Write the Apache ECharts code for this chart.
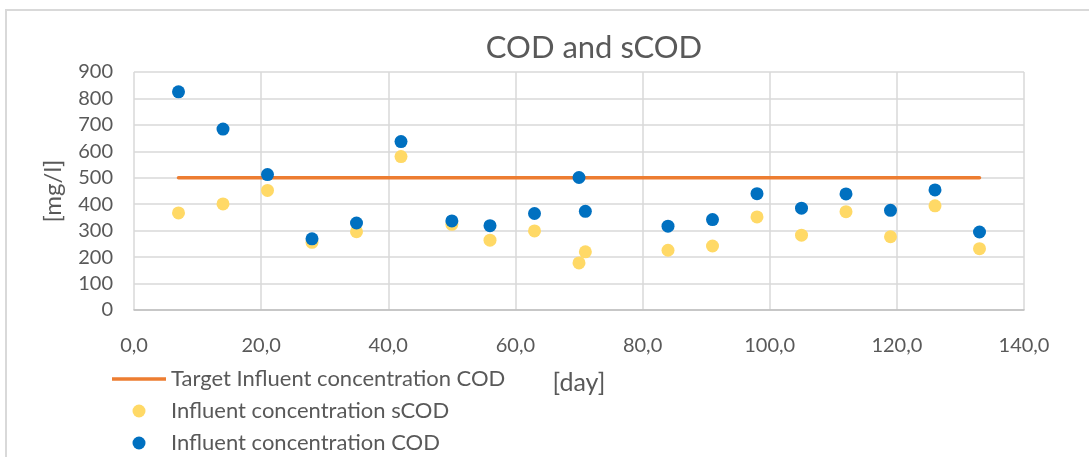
<!DOCTYPE html>
<html>
<head>
<meta charset="utf-8">
<style>
  html, body { margin: 0; padding: 0; background: #ffffff; }
  #chart { width: 1089px; height: 457px; }
</style>
<script src="https://cdn.jsdelivr.net/npm/echarts@6/dist/echarts.min.js"></script>
</head>
<body>
<div id="chart"></div>
<script>
// Sampling days for the influent measurements
const days = [7, 14, 21, 28, 35, 42, 50, 56, 63, 70, 71, 84, 91, 98, 105, 112, 119, 126, 133];
// Influent concentration COD [mg/l]
const codValues = [825, 684, 512, 269, 329, 637, 337, 319, 365, 501, 373, 317, 342, 440, 385, 439, 377, 454, 295];
// Influent concentration sCOD [mg/l]
const scodValues = [367, 401, 452, 256, 296, 580, 324, 264, 299, 178, 220, 226, 242, 352, 283, 372, 277, 394, 232];
// Target influent COD, held constant over the run
const targetDays = [7, 133];
const targetValues = [500, 500];

const seriesNames = [
  'Target Influent concentration COD',
  'Influent concentration sCOD',
  'Influent concentration COD'
];

const FONT = 'Lato, "Open Sans", sans-serif';
const TEXT = '#595959';
const ORANGE = '#ED7D31';

const pair = (xs, ys) => xs.map((x, i) => [x, ys[i]]);

const chart = echarts.init(document.getElementById('chart'), null, { renderer: 'canvas' });

chart.setOption({
  animation: false,
  backgroundColor: '#ffffff',
  textStyle: { fontFamily: FONT, color: TEXT },
  title: {
    text: 'COD and sCOD',
    left: 594,
    textAlign: 'center',
    top: 32,
    padding: 0,
    textStyle: { fontFamily: FONT, fontSize: 31, fontWeight: 'normal', color: TEXT }
  },
  grid: { left: 134, right: 65, top: 72, height: 238, containLabel: false },
  legend: {
    orient: 'vertical',
    left: 112,
    top: 368,
    padding: 0,
    itemWidth: 54,
    itemHeight: 13,
    itemGap: 10,
    textStyle: { fontFamily: FONT, fontSize: 22, color: TEXT, lineHeight: 20 },
    data: [
      // plain stroke for the target line, no marker in the middle
      { name: seriesNames[0], icon: 'path://M0,0H54V3.5H0Z', itemStyle: { color: ORANGE } },
      { name: seriesNames[1], icon: 'circle' },
      { name: seriesNames[2], icon: 'circle' }
    ]
  },
  xAxis: {
    type: 'value',
    min: 0,
    max: 140,
    interval: 20,
    name: '[day]',
    nameLocation: 'middle',
    nameGap: 60,
    nameTextStyle: { fontFamily: FONT, fontSize: 25, color: TEXT },
    axisLine: { show: true, lineStyle: { color: '#bfbfbf', width: 1.5 } },
    axisTick: { show: false },
    axisLabel: {
      margin: 26,
      fontFamily: FONT, fontSize: 20, color: TEXT,
      formatter: v => v.toFixed(1).replace('.', ',')
    },
    splitLine: { show: true, lineStyle: { color: '#d9d9d9', width: 1.5 } }
  },
  yAxis: {
    type: 'value',
    min: 0,
    max: 900,
    interval: 100,
    name: '[mg/l]',
    nameLocation: 'middle',
    nameGap: 69,
    nameRotate: 90,
    nameTextStyle: { fontFamily: FONT, fontSize: 24, color: TEXT },
    axisLine: { show: false },
    axisTick: { show: false },
    axisLabel: { margin: 21, fontFamily: FONT, fontSize: 20, color: TEXT },
    splitLine: { show: true, lineStyle: { color: '#d9d9d9', width: 1.5 } }
  },
  graphic: [{
    type: 'polyline',
    shape: { points: [[6, 457], [6, 10], [1089, 10]] },
    style: { stroke: '#d9d9d9', lineWidth: 2, fill: null },
    silent: true
  }],
  series: [
    {
      name: seriesNames[0],
      type: 'line',
      data: pair(targetDays, targetValues),
      showSymbol: false,
      symbol: 'none',
      lineStyle: { color: ORANGE, width: 3.5, cap: 'round' },
      itemStyle: { color: ORANGE },
      z: 2
    },
    {
      name: seriesNames[1],
      type: 'scatter',
      data: pair(days, scodValues),
      symbol: 'circle',
      symbolSize: 13,
      itemStyle: { color: '#FFD966', opacity: 1 },
      z: 3
    },
    {
      name: seriesNames[2],
      type: 'scatter',
      data: pair(days, codValues),
      symbol: 'circle',
      symbolSize: 13,
      itemStyle: { color: '#0070C0', opacity: 1 },
      z: 4
    }
  ]
});
</script>
</body>
</html>
